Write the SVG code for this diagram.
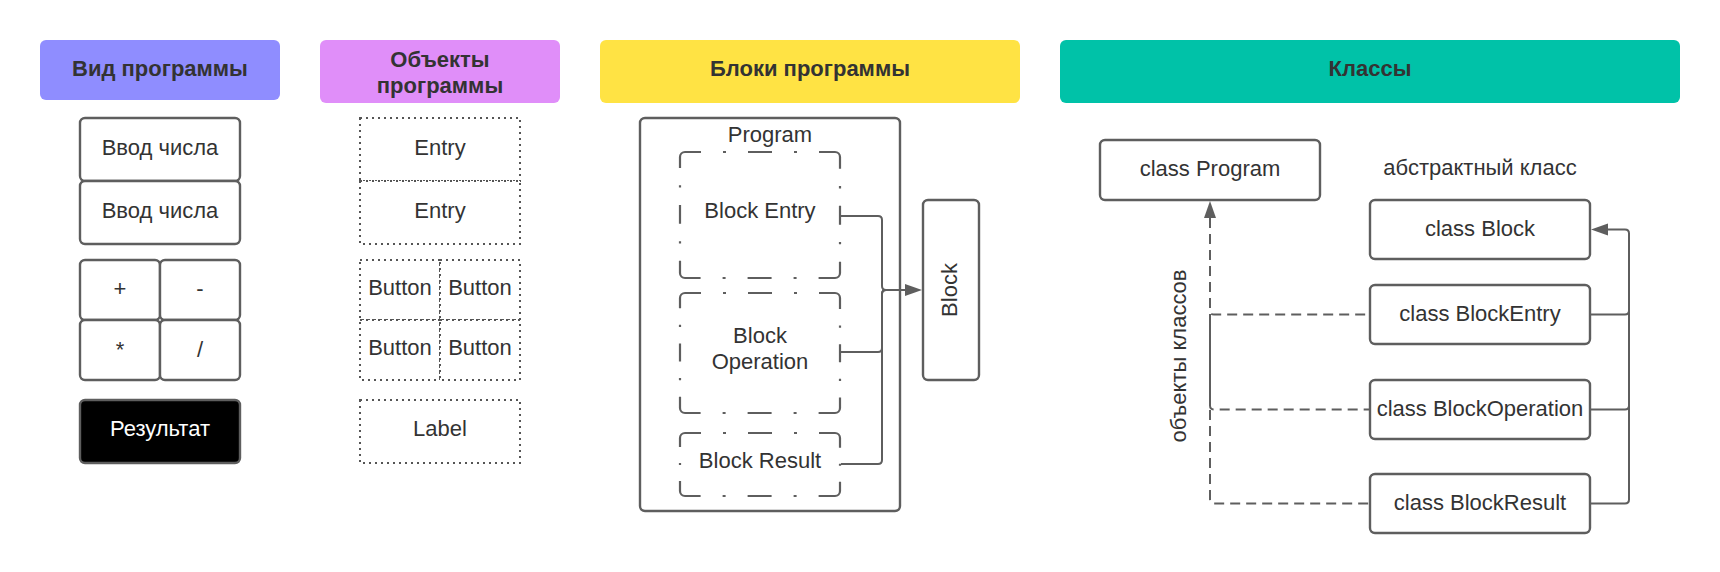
<svg xmlns="http://www.w3.org/2000/svg" width="1720" height="572" viewBox="0 0 1720 572">
<defs>
<style>
text{font-family:"Liberation Sans",Arial,sans-serif;font-size:22px;fill:#333333;text-anchor:middle}
.h{font-weight:bold}
.box{fill:#ffffff;stroke:#5e5e5e;stroke-width:2.4}
.dot{fill:#ffffff;stroke:#555555;stroke-width:2;stroke-dasharray:2 4}
.dd{fill:#ffffff;stroke:#5e5e5e;stroke-width:2.2}
.ln{fill:none;stroke:#5e5e5e;stroke-width:2}
.dash{fill:none;stroke:#5e5e5e;stroke-width:2;stroke-dasharray:10 6}
</style>
<marker id="ah" markerUnits="userSpaceOnUse" markerWidth="18" markerHeight="12" refX="0" refY="6" orient="auto" overflow="visible">
<path d="M0,0 L17,6 L0,12 Z" fill="#5e5e5e"/>
</marker>
<marker id="ahs" markerUnits="userSpaceOnUse" markerWidth="18" markerHeight="12" refX="0" refY="6" orient="auto-start-reverse" overflow="visible">
<path d="M0,0 L17,6 L0,12 Z" fill="#5e5e5e"/>
</marker>
</defs>
<rect width="1720" height="572" fill="#ffffff"/>

<g id="header-vid">
<rect x="40" y="40" width="240" height="60" rx="6" fill="#8f8dff"/>
<text class="h" x="160" y="76">Вид программы</text>
</g>
<g id="header-objects">
<rect x="320" y="40" width="240" height="63" rx="6" fill="#e08ef9"/>
<text class="h" x="440" y="66.5">Объекты</text>
<text class="h" x="440" y="92.5">программы</text>
</g>
<g id="header-blocks">
<rect x="600" y="40" width="420" height="63" rx="6" fill="#ffe344"/>
<text class="h" x="810" y="76">Блоки программы</text>
</g>
<g id="header-classes">
<rect x="1060" y="40" width="620" height="63" rx="6" fill="#00c2a8"/>
<text class="h" x="1370" y="76">Классы</text>
</g>

<g id="view-entry1"><rect class="box" x="80" y="118" width="160" height="63" rx="5"/><text x="160" y="155">Ввод числа</text></g>
<g id="view-entry2"><rect class="box" x="80" y="181" width="160" height="63" rx="5"/><text x="160" y="217.5">Ввод числа</text></g>
<g id="view-plus"><rect class="box" x="80" y="260" width="80" height="60" rx="5"/><text x="120" y="296">+</text></g>
<g id="view-minus"><rect class="box" x="160" y="260" width="80" height="60" rx="5"/><text x="200" y="296">-</text></g>
<g id="view-mul"><rect class="box" x="80" y="320" width="80" height="60" rx="5"/><text x="120" y="357">*</text></g>
<g id="view-div"><rect class="box" x="160" y="320" width="80" height="60" rx="5"/><text x="200" y="357">/</text></g>
<g id="view-result"><rect x="80" y="400" width="160" height="63" rx="5" fill="#000000" stroke="#5e5e5e" stroke-width="2.4"/><text x="160" y="436" style="fill:#ffffff">Результат</text></g>

<g id="obj-entry1"><rect class="dot" x="360" y="118" width="160" height="63"/><text x="440" y="155">Entry</text></g>
<g id="obj-entry2"><rect class="dot" x="360" y="181" width="160" height="63"/><text x="440" y="218">Entry</text></g>
<g id="obj-button1"><rect class="dot" x="360" y="260" width="80" height="60"/><text x="400" y="295">Button</text></g>
<g id="obj-button2"><rect class="dot" x="440" y="260" width="80" height="60"/><text x="480" y="295">Button</text></g>
<g id="obj-button3"><rect class="dot" x="360" y="320" width="80" height="60"/><text x="400" y="354.5">Button</text></g>
<g id="obj-button4"><rect class="dot" x="440" y="320" width="80" height="60"/><text x="480" y="354.5">Button</text></g>
<g id="obj-label"><rect class="dot" x="360" y="400" width="160" height="63"/><text x="440" y="436">Label</text></g>

<g id="program">
<rect class="box" x="640" y="118" width="260" height="393" rx="5"/>
<text x="770" y="141.5">Program</text>
</g>
<g id="block-entry">
<path class="dd" d="M685,152 H835 A5,5 0 0 1 840,157 V273 A5,5 0 0 1 835,278 H685 A5,5 0 0 1 680,273 V157 A5,5 0 0 1 685,152 Z" stroke-dasharray="16 22 3 22 24 22 3 22 35.39 17.33 2.36 17.33 18.9 17.33 2.36 17.33 35.39 22 3 22 24 22 3 22 35.39 17.33 2.36 17.33 18.9 17.33 2.36 17.33 19.39 0"/>
<text x="760" y="218">Block Entry</text>
</g>
<g id="block-operation">
<path class="dd" d="M685,293 H835 A5,5 0 0 1 840,298 V408 A5,5 0 0 1 835,413 H685 A5,5 0 0 1 680,408 V298 A5,5 0 0 1 685,293 Z" stroke-dasharray="16 22 3 22 24 22 3 22 34.6 16.5 2.25 16.5 18 16.5 2.25 16.5 34.6 22 3 22 24 22 3 22 34.6 16.5 2.25 16.5 18 16.5 2.25 16.5 18.6 0"/>
<text x="760" y="342.7">Block</text>
<text x="760" y="369.3">Operation</text>
</g>
<g id="block-result">
<path class="dd" d="M685,433 H835 A5,5 0 0 1 840,438 V491 A5,5 0 0 1 835,496 H685 A5,5 0 0 1 680,491 V438 A5,5 0 0 1 685,433 Z" stroke-dasharray="16 22 3 22 24 22 3 22 33.35 16 2 16 33.35 22 3 22 24 22 3 22 33.35 16 2 16 17.35 0"/>
<text x="760" y="468.3">Block Result</text>
</g>
<g id="block">
<rect class="box" x="923" y="200" width="56" height="180" rx="5"/>
<text transform="translate(957,290) rotate(-90)">Block</text>
</g>

<g id="class-program"><rect class="box" x="1100" y="140" width="220" height="60" rx="5"/><text x="1210" y="175.5">class Program</text></g>
<g id="abstract-label"><text x="1480" y="175">абстрактный класс</text></g>
<g id="class-block"><rect class="box" x="1370" y="200" width="220" height="59" rx="5"/><text x="1480" y="235.5">class Block</text></g>
<g id="class-blockentry"><rect class="box" x="1370" y="285" width="220" height="59" rx="5"/><text x="1480" y="320.5">class BlockEntry</text></g>
<g id="class-blockoperation"><rect class="box" x="1370" y="380" width="220" height="59" rx="5"/><text x="1480" y="415.5">class BlockOperation</text></g>
<g id="class-blockresult"><rect class="box" x="1370" y="474" width="220" height="59" rx="5"/><text x="1480" y="509.5">class BlockResult</text></g>
<g id="objects-label"><text transform="translate(1186,356) rotate(-90)">объекты классов</text></g>

<g id="connectors">
<path class="ln" d="M841,216 H878 Q882,216 882,220 V286 Q882,290 886,290 H905" marker-end="url(#ah)"/>
<path class="ln" d="M841,352 H878 Q882,352 882,348 V294 Q882,290 886,290 H905"/>
<path class="ln" d="M841,464 H878 Q882,464 882,460 V294 Q882,290 886,290 H905"/>

<path class="ln" d="M1590,314.5 H1625 Q1629,314.5 1629,310.5 V233.5 Q1629,229.5 1625,229.5 H1608" marker-end="url(#ah)"/>
<path class="ln" d="M1590,409.5 H1625 Q1629,409.5 1629,405.5 V233.5"/>
<path class="ln" d="M1590,503.5 H1625 Q1629,503.5 1629,499.5 V233.5"/>

<path class="dash" d="M1210,218 V499.5 Q1210,503.5 1214,503.5 H1369" marker-start="url(#ahs)"/>
<path class="dash" d="M1210,218 V310.5 Q1210,314.5 1214,314.5 H1369"/>
<path class="dash" d="M1210,314.5 V405.5 Q1210,409.5 1214,409.5 H1369" stroke-dashoffset="9"/>
</g>
</svg>
